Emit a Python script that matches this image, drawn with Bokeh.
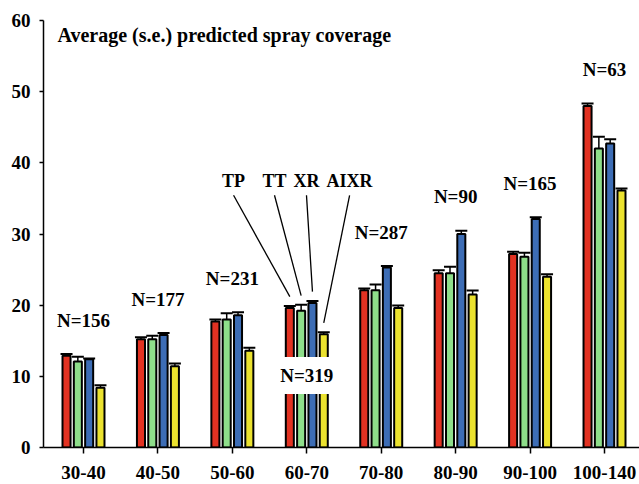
from bokeh.plotting import figure
from bokeh.models import Range1d, FixedTicker, Whisker, TeeHead, ColumnDataSource, Label
from bokeh.core.properties import value
from bokeh.embed import file_html
from bokeh.resources import INLINE

# ---- data ----
categories = ["30-40", "40-50", "50-60", "60-70", "70-80", "80-90", "90-100", "100-140"]
n_counts = [156, 177, 231, 319, 287, 90, 165, 63]
series_names = ["TP", "TT", "XR", "AIXR"]
tp = [12.9, 15.2, 17.7, 19.6, 22.1, 24.5, 27.2, 48.0]
tp_se = [0.25, 0.3, 0.3, 0.3, 0.25, 0.4, 0.3, 0.35]
tt = [12.1, 15.2, 18.0, 19.2, 22.1, 24.5, 26.8, 42.0]
tt_se = [0.65, 0.5, 0.85, 0.85, 0.8, 0.9, 0.55, 1.65]
xr = [12.4, 15.8, 18.6, 20.3, 25.3, 30.0, 32.1, 42.7]
xr_se = [0.1, 0.3, 0.4, 0.3, 0.2, 0.45, 0.25, 0.6]
aixr = [8.4, 11.4, 13.6, 15.9, 19.6, 21.5, 24.0, 36.1]
aixr_se = [0.33, 0.4, 0.4, 0.3, 0.35, 0.55, 0.35, 0.3]
y_ticks = [0, 10, 20, 30, 40, 50, 60]
title_text = "Average (s.e.) predicted spray coverage"

# ---- style / layout ----
colors = ["#e23222", "#8ede8a", "#3d6db5", "#ebe22f"]
offsets = [-0.228, -0.076, 0.076, 0.228]
bar_w = 0.108
FONT = value("Liberation Serif")
FS = "18px"

series = [tp, tt, xr, aixr]
ses = [tp_se, tt_se, xr_se, aixr_se]
gx = list(range(1, len(categories) + 1))

p = figure(width=639, height=484, x_range=Range1d(0.4626, 8.47), y_range=Range1d(0, 60),
           output_backend="svg", toolbar_location=None,
           min_border_left=43, min_border_right=0, min_border_top=20, min_border_bottom=37)
p.outline_line_color = None
p.grid.visible = False
p.background_fill_color = "white"

for vals, err, col, off in zip(series, ses, colors, offsets):
    xs = [g + off for g in gx]
    src = ColumnDataSource(dict(x=xs, top=vals, up=[v + e for v, e in zip(vals, err)]))
    p.vbar(x="x", top="top", bottom=0, width=bar_w, source=src,
           fill_color=col, line_color="black", line_width=2)
    w = Whisker(source=src, base="x", lower="top", upper="up",
                upper_head=TeeHead(size=12, line_width=2, line_color="black"),
                lower_head=None, line_width=1.5, line_color="black", level="glyph")
    p.add_layout(w)

# N labels above each group (except the 60-70 group, drawn inside the bars)
tops = [max(s[i] + e[i] for s, e in zip(series, ses)) for i in range(len(categories))]
lab_x, lab_y, lab_t = [], [], []
for i, (g, n) in enumerate(zip(gx, n_counts)):
    if i == 3:
        continue
    lab_x.append(g)
    lab_y.append(tops[i] + 4.75)
    lab_t.append(f"N={n}")
p.text(x=lab_x, y=lab_y, text=lab_t, text_font=FONT, text_font_style="bold",
       text_font_size="19px", text_align="center", text_baseline="alphabetic", text_color="black")

p.add_layout(Label(x=gx[3], y=10.1, text=f"N={n_counts[3]}", text_font="Liberation Serif",
                   text_font_style="bold", text_font_size="19px", text_align="center",
                   text_color="black", text_baseline="middle",
                   background_fill_color="white", padding=8))

# series name leader labels for group 60-70
name_x = [3.016, 3.566, 3.996, 4.575]
name_y = 37.45
line_y0 = 35.44
p.text(x=name_x, y=[name_y] * 4, text=series_names, text_font=FONT, text_font_style="bold",
       text_font_size=FS, text_align="center", text_baseline="alphabetic", text_color="black")
gi = 3
end_x = [gx[gi] + off for off in offsets]
end_y = [s[gi] + e[gi] + 1.3 for s, e in zip(series, ses)]
p.segment(x0=name_x, y0=[line_y0] * 4, x1=end_x, y1=end_y, line_color="black", line_width=1.3)

# title
p.text(x=[0.651], y=[57.95], text=[title_text], text_font=FONT, text_font_style="bold",
       text_font_size="20px", text_align="left", text_baseline="alphabetic", text_color="black")

# axes
p.xaxis.ticker = FixedTicker(ticks=gx)
p.xaxis.major_label_overrides = {g: c for g, c in zip(gx, categories)}
p.yaxis.ticker = FixedTicker(ticks=y_ticks)
for ax in (p.xaxis, p.yaxis):
    ax.axis_line_color = "black"
    ax.axis_line_width = 1.5
    ax.major_tick_line_width = 1.5
    ax.major_tick_in = 0
    ax.minor_tick_line_color = None
    ax.major_label_text_font = "Liberation Serif"
    ax.major_label_text_font_style = "bold"
    ax.major_label_text_font_size = "19px"
    ax.major_label_text_color = "black"
p.xaxis.major_tick_out = 6
p.xaxis.major_label_standoff = 12
p.yaxis.major_tick_out = 4
p.yaxis.major_label_standoff = 9

open("out.html", "w").write(file_html(p, INLINE))
